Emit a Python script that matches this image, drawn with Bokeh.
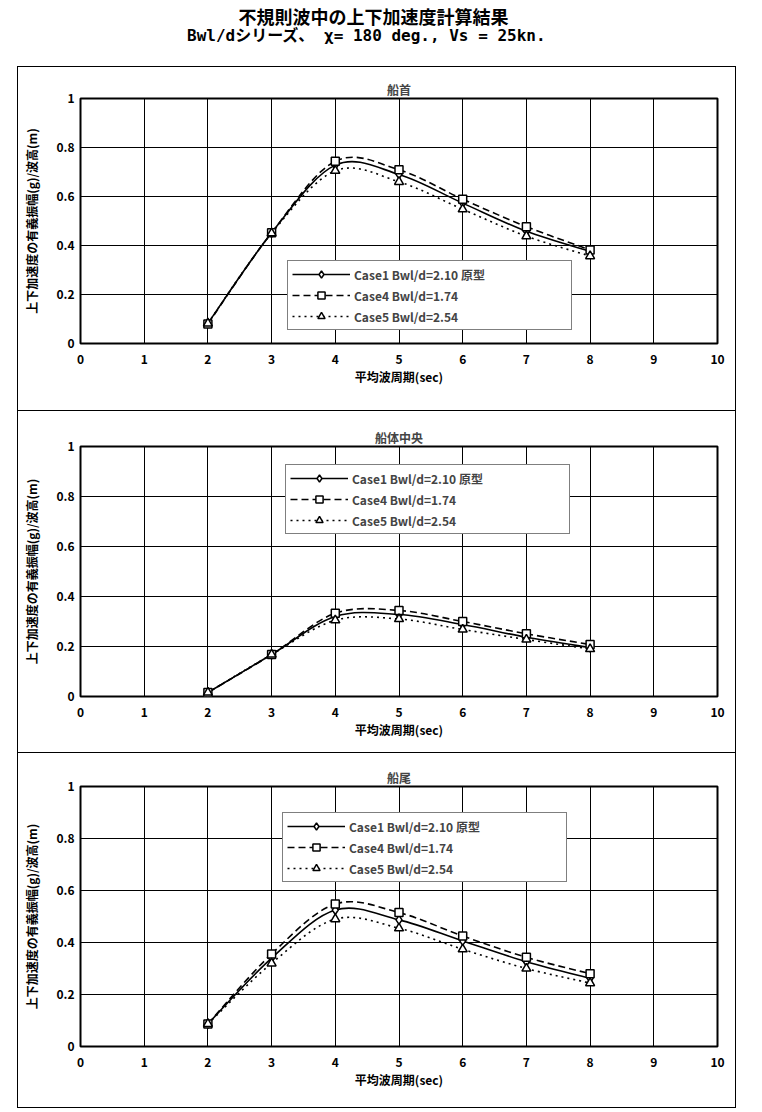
from bokeh.plotting import figure
from bokeh.models import Range1d, FixedTicker, Legend, LegendItem, ColumnDataSource
from bokeh.layouts import column
from bokeh.embed import file_html
from bokeh.resources import INLINE
from bokeh.core.properties import value

FONT = "Noto Sans CJK JP"
MONO_FONT = "DejaVu Sans Mono, Noto Sans CJK JP"

# ---------------- data ----------------
title_lines = ["不規則波中の上下加速度計算結果", "Bwl/dシリーズ、  χ= 180 deg., Vs = 25kn."]
panel_titles = ["船首", "船体中央", "船尾"]
x_label = "平均波周期(sec)"
y_label = "上下加速度の有義振幅(g)/波高(m)"
series_labels = ["Case1 Bwl/d=2.10 原型", "Case4 Bwl/d=1.74", "Case5 Bwl/d=2.54"]

periods = [2, 3, 4, 5, 6, 7, 8]
x_ticks = [0, 1, 2, 3, 4, 5, 6, 7, 8, 9, 10]
x_tick_labels = ["0", "1", "2", "3", "4", "5", "6", "7", "8", "9", "10"]
y_ticks = [0.0, 0.2, 0.4, 0.6, 0.8, 1.0]
y_tick_labels = ["0", "0.2", "0.4", "0.6", "0.8", "1"]

bow_case1 = [0.082, 0.452, 0.728, 0.690, 0.573, 0.458, 0.376]
bow_case4 = [0.080, 0.452, 0.744, 0.709, 0.589, 0.477, 0.382]
bow_case5 = [0.082, 0.450, 0.705, 0.660, 0.548, 0.438, 0.357]

mid_case1 = [0.016, 0.168, 0.320, 0.328, 0.288, 0.237, 0.196]
mid_case4 = [0.016, 0.168, 0.333, 0.344, 0.300, 0.251, 0.208]
mid_case5 = [0.016, 0.168, 0.305, 0.310, 0.268, 0.228, 0.190]

stern_case1 = [0.087, 0.340, 0.525, 0.487, 0.406, 0.326, 0.262]
stern_case4 = [0.087, 0.356, 0.548, 0.515, 0.425, 0.343, 0.280]
stern_case5 = [0.087, 0.320, 0.490, 0.455, 0.374, 0.300, 0.244]

panels_data = [
    [bow_case1, bow_case4, bow_case5],
    [mid_case1, mid_case4, mid_case5],
    [stern_case1, stern_case4, stern_case5],
]

# ---------------- styles ----------------
series_style = [
    dict(dash="solid", marker="diamond", size=9),
    dict(dash="7 4", marker="square", size=8),
    dict(dash="2 4", marker="triangle", size=9),
]
# (height, min_border_top, min_border_bottom, legend_location)
panel_layout = [
    (344, 31, 68, (207, 13)),
    (342, 35, 57, (205, 162)),
    (354, 33, 61, (202, 164)),
]


def bezier_source(xs, ys):
    """Catmull-Rom style control points (Excel-like smoothed line)."""
    n = len(xs)
    d = dict(x0=[], y0=[], x1=[], y1=[], cx0=[], cy0=[], cx1=[], cy1=[])
    for i in range(n - 1):
        a = max(i - 1, 0)
        b = min(i + 2, n - 1)
        d["x0"].append(xs[i]); d["y0"].append(ys[i])
        d["x1"].append(xs[i + 1]); d["y1"].append(ys[i + 1])
        d["cx0"].append(xs[i] + (xs[i + 1] - xs[a]) / 6.0)
        d["cy0"].append(ys[i] + (ys[i + 1] - ys[a]) / 6.0)
        d["cx1"].append(xs[i + 1] - (xs[b] - xs[i]) / 6.0)
        d["cy1"].append(ys[i + 1] - (ys[b] - ys[i]) / 6.0)
    return ColumnDataSource(d)


def make_panel(idx):
    h, bt, bb, loc = panel_layout[idx]
    p = figure(width=717, height=h, output_backend="svg", toolbar_location=None,
               x_range=Range1d(0, 10), y_range=Range1d(0, 1),
               min_border_left=62, min_border_right=18,
               min_border_top=bt, min_border_bottom=bb)
    p.title.text = panel_titles[idx]
    p.title.align = "center"
    p.title.text_font = FONT
    p.title.text_font_size = "12px"
    p.title.text_font_style = "bold"
    p.title.standoff = 2
    p.outline_line_color = "black"
    p.outline_line_width = 2
    p.background_fill_color = "white"

    p.xaxis.ticker = FixedTicker(ticks=x_ticks)
    p.yaxis.ticker = FixedTicker(ticks=y_ticks)
    p.xaxis.major_label_overrides = {t: l for t, l in zip(x_ticks, x_tick_labels)}
    p.yaxis.major_label_overrides = {t: l for t, l in zip(y_ticks, y_tick_labels)}
    for ax in (p.xaxis[0], p.yaxis[0]):
        ax.axis_line_color = None
        ax.major_tick_line_color = None
        ax.minor_tick_line_color = None
        ax.major_tick_out = 0
        ax.major_tick_in = 0
        ax.minor_tick_out = 0
        ax.minor_tick_in = 0
        ax.major_label_text_font = FONT
        ax.major_label_text_font_style = "bold"
        ax.major_label_text_font_size = "12px"
        ax.major_label_text_color = "black"
        ax.axis_label_text_font = FONT
        ax.axis_label_text_font_style = "bold"
        ax.axis_label_text_font_size = "12px"
        ax.axis_label_text_color = "black"
    p.xaxis.axis_label = x_label
    p.yaxis.axis_label = y_label
    p.xaxis.major_label_standoff = 11
    p.xaxis.axis_label_standoff = 1
    p.yaxis.major_label_standoff = 6
    p.yaxis.axis_label_standoff = 13

    p.xgrid.ticker = FixedTicker(ticks=x_ticks)
    p.ygrid.ticker = FixedTicker(ticks=y_ticks)
    for g in (p.xgrid[0], p.ygrid[0]):
        g.grid_line_color = "black"
        g.grid_line_alpha = 1.0
        g.grid_line_width = 1

    items = []
    for s, ys in enumerate(panels_data[idx]):
        st = series_style[s]
        src = bezier_source(periods, ys)
        br = p.bezier(x0="x0", y0="y0", x1="x1", y1="y1", cx0="cx0", cy0="cy0",
                      cx1="cx1", cy1="cy1", source=src, line_color="black",
                      line_width=1.6, line_dash=st["dash"])
        items.append((s, br))
    legend_items = []
    for s, br in items:
        st = series_style[s]
        sr = p.scatter(periods, panels_data[idx][s], marker=st["marker"], size=st["size"],
                       fill_color="white", line_color="black", line_width=1.5)
        legend_items.append(LegendItem(label=series_labels[s], renderers=[br, sr]))

    leg = Legend(items=legend_items, location=loc)
    leg.border_line_color = "black"
    leg.border_line_width = 1
    leg.background_fill_alpha = 1.0
    leg.label_text_font = FONT
    leg.label_text_font_style = "bold"
    leg.label_text_font_size = "12px"
    leg.padding = 4
    leg.spacing = 3
    leg.glyph_width = 58
    leg.glyph_height = 18
    leg.label_height = 18
    leg.label_standoff = 4
    leg.label_width = 213
    leg.margin = 0
    p.add_layout(leg, "center")
    p.styles = {"border-bottom": "1px solid black"} if idx < 2 else {}
    return p


# ---------------- header ----------------
header = figure(width=746, height=66, output_backend="svg", toolbar_location=None,
                x_range=Range1d(0, 746), y_range=Range1d(0, 66),
                min_border=0, min_border_left=0, min_border_right=0,
                min_border_top=0, min_border_bottom=0)
header.axis.visible = False
header.grid.visible = False
header.outline_line_color = None
header.text(x=[373], y=[51], text=[title_lines[0]], text_align="center",
            text_baseline="middle", text_font=value(FONT), text_font_size="18px",
            text_font_style="bold", text_color="black")
header.text(x=[371], y=[31], text=[title_lines[1]], text_align="center",
            text_baseline="middle", text_font=value(MONO_FONT), text_font_size="16px",
            text_font_style="bold", text_color="black")

panels = [make_panel(i) for i in range(3)]
box = column(*panels, styles={"border": "1px solid black"})
box.margin = (0, 0, 0, 17)
layout = column(header, box)

open("out.html", "w").write(file_html(layout, INLINE))
